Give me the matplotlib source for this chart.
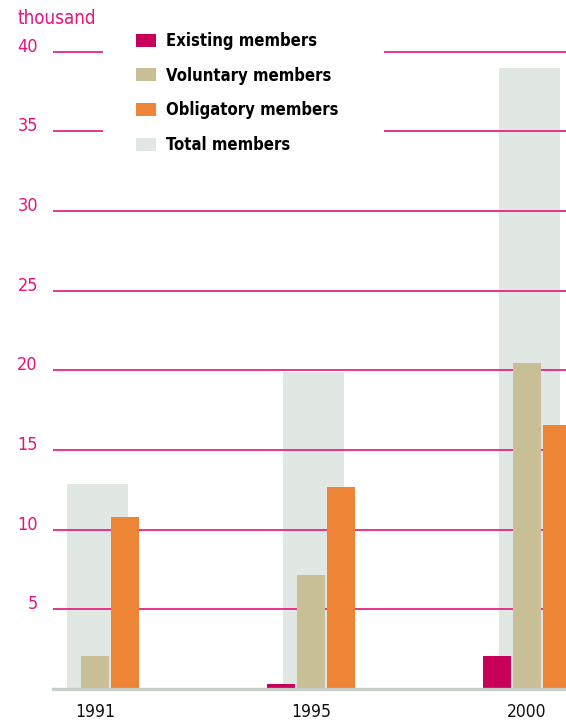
import matplotlib
matplotlib.use("Agg")
import matplotlib.pyplot as plt
import matplotlib.patches as mpatches
from matplotlib.transforms import ScaledTranslation

plt.rcParams['font.family'] = ['Liberation Sans Narrow', 'DejaVu Sans']
plt.rcParams['font.stretch'] = 'condensed'

years = ['1991', '1995', '2000']
existing = [0, 0.3, 2.1]
voluntary = [2.1, 7.15, 20.45]
obligatory = [10.8, 12.7, 16.6]
total = [12.85, 19.9, 39.0]
yticks = [5, 10, 15, 20, 25, 30, 35, 40]

pink = '#e5137b'
c_exist = '#c8005a'
c_vol = '#c9bf97'
c_obl = '#ee8435'
c_tot = '#e1e8e4'

W, H = 566, 721
fig = plt.figure(figsize=(W / 100, H / 100), dpi=100)
ax = fig.add_axes([53 / W, (H - 689) / H, 1 - 53 / W, 689 / H])

x = list(range(len(years)))
bw = 28 / 216
ax.bar([i + 0.012 for i in x], total, width=61 / 216, color=c_tot, zorder=1, label='Total members')
ax.bar([i - 30 / 216 for i in x], existing, width=bw, color=c_exist, zorder=3, label='Existing members')
ax.bar(x, voluntary, width=bw, color=c_vol, zorder=3, label='Voluntary members')
ax.bar([i + 30 / 216 for i in x], obligatory, width=bw, color=c_obl, zorder=3, label='Obligatory members')

ax.set_xlim(-0.194, 2.181)
ax.set_ylim(0, 43.25)
ax.axhline(0, color='#c3cfc7', lw=2.4, zorder=4, clip_on=False)

ax.set_yticks(yticks)
ax.set_yticklabels([str(t) for t in yticks])
ax.set_axisbelow(False)
ax.yaxis.grid(True, color=pink, lw=1.2)
ax.tick_params(axis='y', length=0, pad=10.8, labelcolor=pink, labelsize=13)
for lab in ax.get_yticklabels():
    lab.set_transform(lab.get_transform() + ScaledTranslation(0, 7 / 100, fig.dpi_scale_trans))

ax.set_xticks(x)
ax.set_xticklabels(years)
ax.tick_params(axis='x', length=0, pad=10, labelcolor='#111111', labelsize=12.5)

for s in ax.spines.values():
    s.set_visible(False)

# white area behind the legend hides the top gridlines
ax.add_patch(mpatches.Rectangle((103 / W, 1 - 160 / H), 281 / W, 120 / H,
                                transform=fig.transFigure, facecolor='white',
                                edgecolor='none', zorder=2.7, clip_on=False))

h, l = ax.get_legend_handles_labels()
order = [1, 2, 3, 0]
leg = ax.legend([h[i] for i in order], [l[i] for i in order],
                loc='upper left', bbox_to_anchor=(136 / W, 1 - 32 / H),
                bbox_transform=fig.transFigure, frameon=False, borderpad=0,
                borderaxespad=0, handlelength=1.2, handleheight=0.84,
                handletextpad=0.6, labelspacing=1.0,
                prop={'weight': 'bold', 'size': 12, 'stretch': 'condensed'})
leg.set_zorder(5)

fig.text(17 / W, 1 - 19 / H, 'thousand', color=pink, fontsize=13.5, va='center', ha='left')

fig.savefig('out.png', dpi=100)
